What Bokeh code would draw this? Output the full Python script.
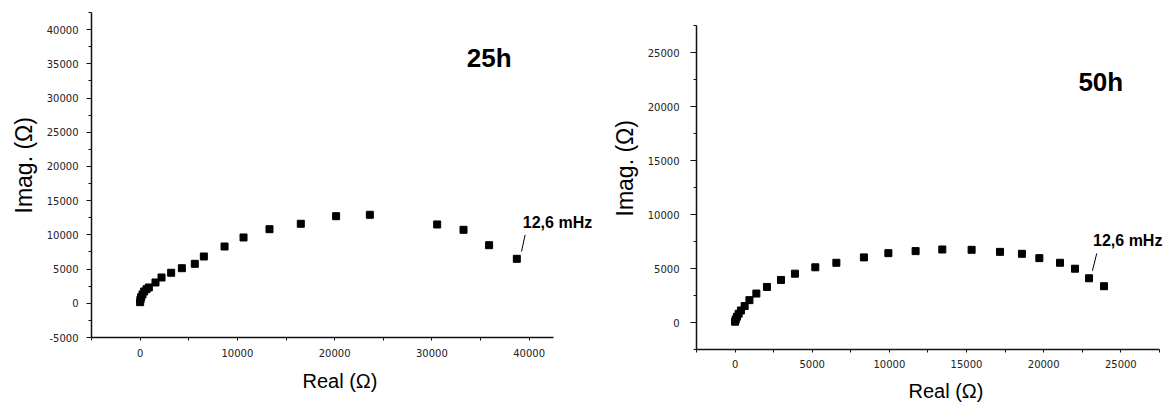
import math
from bokeh.plotting import figure
from bokeh.layouts import row
from bokeh.models import FixedTicker, NumeralTickFormatter, Label, Title
from bokeh.embed import file_html
from bokeh.resources import INLINE

# ---------------- data ----------------
# 25 h
real_25h = [0, 34, 106, 243, 411, 655, 895, 1580, 2200, 3190, 4290, 5620, 6550,
            8680, 10630, 13300, 16520, 20150, 23620, 30540, 33250, 35880, 38730]
imag_25h = [165, 555, 896, 1286, 1725, 2061, 2310, 3040, 3770, 4460, 5130, 5770, 6840,
            8300, 9620, 10830, 11620, 12730, 12935, 11520, 10740, 8490, 6500]
# 50 h
real_50h = [0, 40, 120, 230, 380, 620, 930, 1380, 2065, 2975, 3880, 5200, 6565, 8350,
            9935, 11700, 13430, 15330, 17170, 18590, 19720, 21060, 22030, 22940, 23910]
imag_50h = [75, 285, 530, 810, 1110, 1520, 2070, 2680, 3290, 3940, 4520, 5110, 5530, 6030,
            6420, 6610, 6760, 6730, 6540, 6360, 5960, 5530, 4980, 4095, 3360]

x_ticks_25h = [0, 10000, 20000, 30000, 40000]
y_ticks_25h = [-5000, 0, 5000, 10000, 15000, 20000, 25000, 30000, 35000, 40000]
x_ticks_50h = [0, 5000, 10000, 15000, 20000, 25000]
y_ticks_50h = [0, 5000, 10000, 15000, 20000, 25000]

freq_label = "12,6 mHz"
axis_x_title = "Real (\u03a9)"
axis_y_title = "Imag. (\u03a9)"

TICK_FONT = "DejaVu Sans"
LABEL_FONT = "Liberation Sans"
H = 409


def make_panel(width, height, xr, yr, xbounds, borders, xticks, xminor, yticks, yminor,
               ytick_out, ylab_standoff, xlab_standoff):
    bl, br, bt, bb = borders
    p = figure(width=width, height=height, x_range=xr, y_range=yr, title=None,
               output_backend="svg", toolbar_location=None, frame_align=False,
               min_border_left=bl, min_border_right=br,
               min_border_top=bt, min_border_bottom=bb)
    p.outline_line_color = None
    p.grid.visible = False
    p.background_fill_color = "white"
    p.border_fill_color = "white"
    p.xaxis.ticker = FixedTicker(ticks=xticks, minor_ticks=xminor)
    p.yaxis.ticker = FixedTicker(ticks=yticks, minor_ticks=yminor)
    p.xaxis.bounds = xbounds
    for ax in (p.xaxis, p.yaxis):
        ax.formatter = NumeralTickFormatter(format="0")
        ax.axis_line_color = "#111111"
        ax.axis_line_width = 1.5
        ax.major_tick_line_color = "#111111"
        ax.minor_tick_line_color = "#111111"
        ax.major_tick_in = 0
        ax.minor_tick_in = 0
        ax.major_label_text_font = TICK_FONT
        ax.major_label_text_font_size = "10px"
        ax.major_label_text_color = "#222222"
    p.xaxis.major_tick_out = 3
    p.xaxis.minor_tick_out = 3
    p.yaxis.major_tick_out = ytick_out
    p.yaxis.minor_tick_out = 3
    p.yaxis.major_label_standoff = ylab_standoff
    p.xaxis.major_label_standoff = xlab_standoff
    fw = width - bl - br
    fh = height - bt - bb
    sx = fw / (xr[1] - xr[0])
    sy = fh / (yr[1] - yr[0])
    return p, sx, sy


def add_text(p, x, y, text, size, bold=False, x_offset=0, y_offset=0):
    p.add_layout(Label(x=x, y=y, text=text, text_font=LABEL_FONT,
                       text_font_size=size,
                       text_font_style="bold" if bold else "normal",
                       text_color="black", text_align="left",
                       text_baseline="middle", x_offset=x_offset, y_offset=y_offset))


def add_axis_title(p, text, side, offset, standoff, size):
    p.add_layout(Title(text=text, align="left", offset=offset, standoff=standoff,
                       text_font=LABEL_FONT, text_font_size=size,
                       text_font_style="normal", text_color="black"), side)


# ---------------- left panel (25 h) ----------------
W1 = 596
xr1 = (-5000, -5000 + (W1 - 91) / 9.726 * 1000)
yr1 = (-5000, 42500)
p1, sx1, sy1 = make_panel(W1, H, xr1, yr1, (-5000, 42500), (91, 0, 12, H - 337),
                          x_ticks_25h, [-5000, 5000, 15000, 25000, 35000],
                          y_ticks_25h, [v + 2500 for v in y_ticks_25h],
                          5, 8, 8)
p1.scatter(real_25h, imag_25h, marker="square", size=7, color="black")

i1 = len(real_25h) - 1
ax1, ay1 = real_25h[i1], imag_25h[i1]
p1.segment(x0=[ax1 + 4.7 / sx1], y0=[ay1 + 7.3 / sy1],
           x1=[ax1 + 8.3 / sx1], y1=[ay1 + 24 / sy1],
           line_color="black", line_width=1)
add_text(p1, ax1, ay1, freq_label, "16px", bold=True, x_offset=6, y_offset=36)
add_text(p1, 33590, 35820, "25h", "26px", bold=True)
add_axis_title(p1, axis_x_title, "below", 211, 16, "20px")
add_axis_title(p1, axis_y_title, "left", 124, 14, "23px")

# ---------------- right panel (50 h) ----------------
W2 = 1171 - W1
xr2 = (-2500, -2500 + (W2 - 100) / 15.43 * 1000)
yr2 = (-2500, 27500)
p2, sx2, sy2 = make_panel(W2, H, xr2, yr2, (-2500, 27500), (100, 0, 25, H - 351),
                          x_ticks_50h, [-2500, 2500, 7500, 12500, 17500, 22500, 27500],
                          y_ticks_50h, [-2500, 2500, 7500, 12500, 17500, 22500, 27500],
                          6, 11, 7)
p2.scatter(real_50h, imag_50h, marker="square", size=7, color="black")

i2 = len(real_50h) - 2
ax2, ay2 = real_50h[i2], imag_50h[i2]
p2.segment(x0=[ax2 + 3.4 / sx2], y0=[ay2 + 7.6 / sy2],
           x1=[ax2 + 7.7 / sx2], y1=[ay2 + 25 / sy2],
           line_color="black", line_width=1)
add_text(p2, ax2, ay2, freq_label, "16px", bold=True, x_offset=4, y_offset=38)
add_text(p2, 22250, 22280, "50h", "26px", bold=True)
add_axis_title(p2, axis_x_title, "below", 212, 15, "20px")
add_axis_title(p2, axis_y_title, "left", 133, 13, "23px")

layout = row(p1, p2)
open("out.html", "w").write(file_html(layout, INLINE))
